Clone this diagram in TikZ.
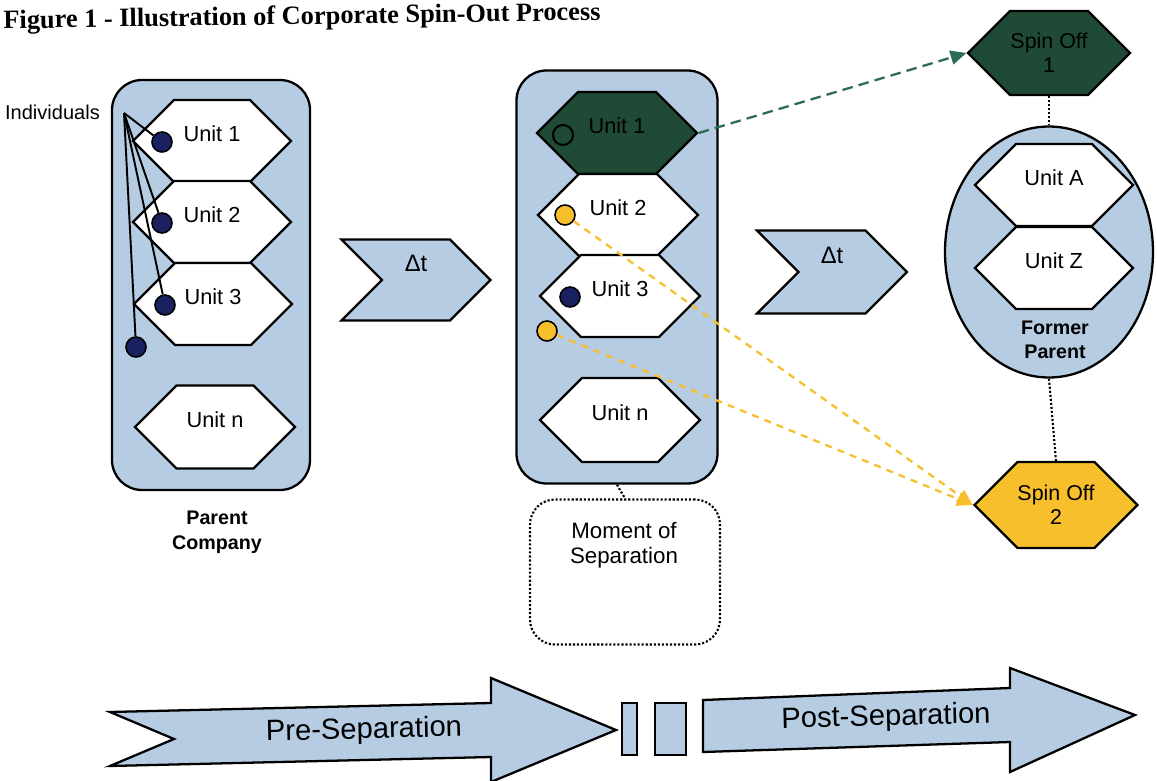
\documentclass[tikz,border=0pt]{standalone}
\usepackage{fontspec}
\setmainfont{Liberation Sans}
\newfontfamily\titlefont{Liberation Serif}
\usetikzlibrary{shapes.symbols,shapes.geometric,arrows.meta}

\newlength{\du}
\setlength{\du}{0.02cm}

\definecolor{boxblue}{rgb}{0.710000, 0.800000, 0.890000}
\definecolor{spingreen}{rgb}{0.120000, 0.290000, 0.210000}
\definecolor{dashgreen}{rgb}{0.180000, 0.420000, 0.330000}
\definecolor{spinyellow}{rgb}{0.970000, 0.750000, 0.170000}
\definecolor{dotnavy}{rgb}{0.100000, 0.130000, 0.380000}

\tikzset{
  outline/.style={draw=black, line width=1.3pt},
  company/.style={outline, fill=boxblue, rounded corners=30\du, inner sep=0pt},
  hexunit/.style={outline, fill=white, signal, signal to=east and west,
    minimum width=158\du, minimum height=82\du, inner sep=0pt,
    font=\fontsize{12.4}{14}\selectfont, text height=9pt, text depth=8pt},
  spinoff/.style={outline, signal, signal to=east and west,
    minimum width=162\du, minimum height=84\du, inner sep=0pt, align=center,
    font=\fontsize{12.2}{13.5}\selectfont},
  deltastep/.style={outline, fill=boxblue, signal, signal from=west, signal to=east,
    minimum width=150\du, minimum height=82\du, inner sep=0pt,
    font=\fontsize{13.5}{15}\selectfont, text height=10pt, text depth=19.8pt},
  person/.style={circle, draw=black, line width=0.9pt, fill=dotnavy,
    minimum size=20\du, inner sep=0pt},
  leaver/.style={person, fill=spinyellow},
  boldlabel/.style={align=center, font=\bfseries\fontsize{11.2}{14}\selectfont},
  fanline/.style={draw=black, line width=1.1pt},
  sepline/.style={draw=black, line width=1.2pt, dash pattern=on 1.2pt off 1.1pt},
  greenmove/.style={draw=dashgreen, line width=1.3pt, dash pattern=on 6pt off 3.5pt,
    -{Triangle[length=9pt,width=8pt]}},
  yellowmove/.style={draw=spinyellow, line width=1.3pt, dash pattern=on 4pt off 3.5pt,
    -{Triangle[length=9pt,width=8pt]}},
  phasearrow/.style={outline, fill=boxblue}
}

\begin{document}
\begin{tikzpicture}
\pgftransformxscale{1.000000}
\pgftransformyscale{-1.000000}
\useasboundingbox (0\du,0\du) rectangle (1157\du,781\du);

% heading
\node[font=\titlefont\bfseries\fontsize{15}{18}\selectfont, rotate=0.8] (title) at (302\du,18\du){Figure 1 - Illustration of Corporate Spin-Out Process};

% parent company before the split
\node[company, minimum width=198\du, minimum height=410\du] (parent) at (211\du,285\du){};
\node[hexunit] (pu1) at (212\du,141\du){Unit 1};
\node[hexunit] (pu2) at (212\du,222\du){Unit 2};
\node[hexunit] (pu3) at (213\du,304\du){Unit 3};
\node[hexunit, minimum width=160\du, minimum height=83\du] (pun) at (215\du,427\du){Unit n};
\node[boldlabel] (parentlbl) at (217\du,532\du){Parent\\Company};

% individuals inside the parent
\node[anchor=east, font=\fontsize{11.4}{13}\selectfont] (indlbl) at (106\du,112\du){Individuals};
\coordinate (fan) at (124\du,113\du);
\node[person] (d1) at (162\du,142\du){};
\node[person] (d2) at (162\du,223\du){};
\node[person] (d3) at (165\du,305\du){};
\node[person] (d4) at (136\du,347\du){};
\draw[fanline] (fan) -- (d1);
\draw[fanline] (fan) -- (d2);
\draw[fanline] (fan) -- (d3);
\draw[fanline] (fan) -- (d4);

% first time step
\node[deltastep, minimum width=149\du, minimum height=81\du] (dt1) at (416\du,280\du){Δt};

% company at the moment of separation
\node[company, minimum width=201\du, minimum height=413\du] (midco) at (617\du,277\du){};
\node[hexunit, fill=spingreen, minimum width=160\du] (mu1) at (617\du,133\du){Unit 1};
\node[hexunit, minimum width=160\du] (mu2) at (618\du,215\du){Unit 2};
\node[hexunit, minimum width=160\du] (mu3) at (620\du,296\du){Unit 3};
\node[hexunit, minimum width=160\du, minimum height=84\du] (mun) at (620\du,420\du){Unit n};
\node[person, fill=none, line width=1.2pt] (hollow) at (563\du,135\du){};
\node[leaver] (yd1) at (565\du,215\du){};
\node[person] (nd3) at (570\du,297\du){};
\node[leaver] (yd2) at (547\du,331\du){};

\node[draw=black, line width=1.2pt, dash pattern=on 1.2pt off 1.1pt, rounded corners=25\du,
      minimum width=190\du, minimum height=145\du] (moment) at (625\du,572\du){};
\node[align=center, font=\fontsize{12.7}{14.5}\selectfont] (momentlbl) at (624\du,545\du){Moment of\\Separation};
\draw[sepline] (midco.south) -- (moment.north);

% second time step
\node[deltastep, minimum height=83\du] (dt2) at (832\du,272\du){Δt};

% after the split
\node[spinoff, fill=spingreen] (so1) at (1049\du,53\du){Spin Off\\1};
\node[ellipse, outline, fill=boxblue, minimum width=208\du, minimum height=251\du] (former) at (1049\du,252\du){};
\node[hexunit] (ua) at (1054\du,185\du){Unit A};
\node[hexunit] (uz) at (1054\du,268\du){Unit Z};
\node[boldlabel] (formerlbl) at (1055\du,340\du){Former\\Parent};
\node[spinoff, fill=spinyellow, minimum height=86\du] (so2) at (1056\du,505\du){Spin Off\\2};
\draw[sepline] (so1.south) -- (former.north);
\draw[sepline] (former.south) -- (so2.north);

% who goes where
\draw[greenmove] (mu1.east) -- (so1.west);
\draw[yellowmove] (yd1) -- (so2.west);
\draw[yellowmove] (yd2) -- (so2.west);

% time line
\draw[phasearrow] (110\du,712\du) -- (491\du,703\du) -- (491\du,678\du) -- (616\du,730\du)
  -- (491\du,782\du) -- (491\du,757\du) -- (110\du,766\du) -- (174\du,739\du) -- cycle;
\node[font=\fontsize{16.6}{19}\selectfont, rotate=1.4] (pre) at (364\du,731\du){Pre-Separation};
\draw[phasearrow] (622\du,703\du) rectangle (637\du,755\du);
\draw[phasearrow] (655\du,703\du) rectangle (686\du,755\du);
\draw[phasearrow] (703\du,700\du) -- (1010\du,688\du) -- (1010\du,668\du) -- (1135\du,715\du)
  -- (1010\du,772\du) -- (1010\du,742\du) -- (703\du,752\du) -- cycle;
\node[font=\fontsize{16.6}{19}\selectfont, rotate=1.4] (post) at (886\du,718\du){Post-Separation};
\end{tikzpicture}
\end{document}
